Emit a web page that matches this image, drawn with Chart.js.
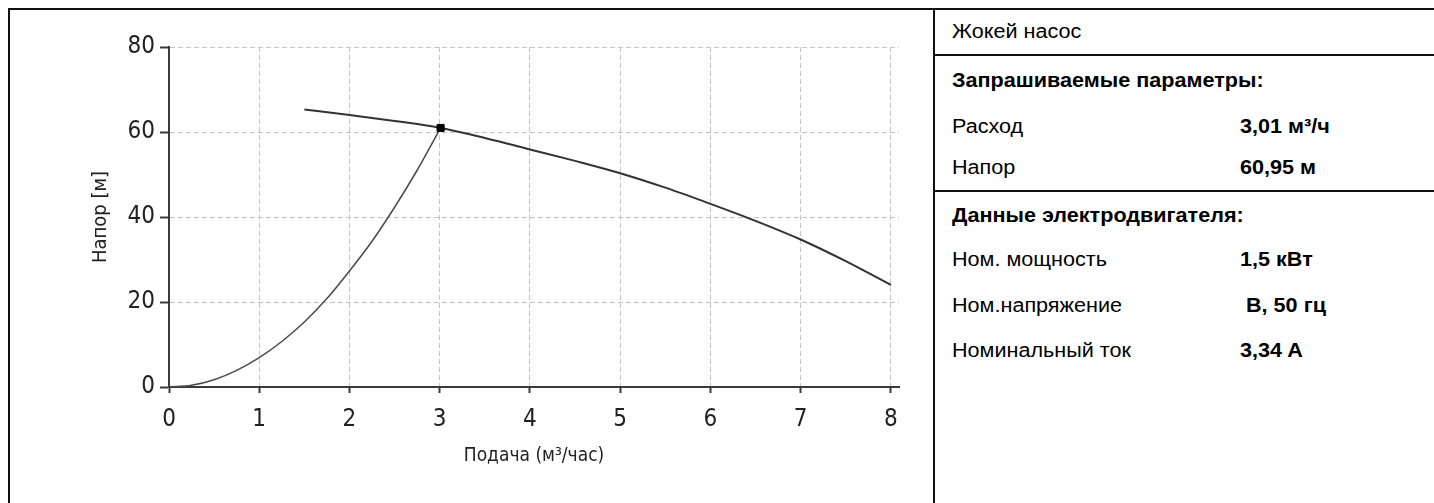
<!DOCTYPE html>
<html>
<head>
<meta charset="utf-8">
<script src="https://cdn.jsdelivr.net/npm/chart.js@4"></script>
<style>
  html, body { margin: 0; padding: 0; background: #fff; }
  body { width: 1434px; height: 503px; position: relative; overflow: hidden; font-family: "Liberation Sans", Arial, sans-serif; color: #000; }
  .hline { position: absolute; height: 2px; background: #111; }
  .vline { position: absolute; width: 2px; background: #111; }
  #wrap { position: absolute; left: 10px; top: 10px; width: 923px; height: 493px; }
  .t { position: absolute; font-size: 20px; line-height: 20px; white-space: pre; transform: scaleX(1.08); transform-origin: 0 50%; }
  .b { font-weight: bold; }
</style>
</head>
<body>
<div class="hline" style="left:8px; top:8px; width:1426px;"></div>
<div class="vline" style="left:8px; top:8px; height:495px;"></div>
<div class="vline" style="left:933px; top:8px; height:495px;"></div>
<div class="hline" style="left:933px; top:54px; width:501px;"></div>
<div class="hline" style="left:933px; top:190px; width:501px;"></div>

<div id="wrap"><canvas id="c" width="923" height="493"></canvas></div>

<div id="panel"></div>

<script>
// ---- data ----
const xTicks = [0, 1, 2, 3, 4, 5, 6, 7, 8];
const yTicks = [0, 20, 40, 60, 80];

const pumpQ = [1.5, 2, 2.5, 3, 3.5, 4, 4.5, 5, 5.5, 6, 6.5, 7, 7.5, 8];
const pumpH = [65.3, 64.0, 62.6, 61.0, 58.6, 55.9, 53.2, 50.3, 46.9, 43.1, 39.1, 34.7, 29.6, 24.0];

const sysQ = [0, 0.25, 0.5, 0.75, 1, 1.25, 1.5, 1.75, 2, 2.25, 2.5, 2.75, 3.01];
const sysH = [0, 0.4, 1.7, 3.9, 6.9, 10.7, 15.3, 20.8, 27.3, 34.3, 42.3, 51.0, 60.95];

const dutyQ = [3.01];
const dutyH = [60.95];

const xTitle = 'Подача (м³/час)';
const yTitle = 'Напор [м]';

const panelTitle = 'Жокей насос';
const section1 = 'Запрашиваемые параметры:';
const section1Labels = ['Расход', 'Напор'];
const section1Values = ['3,01 м³/ч', '60,95 м'];
const section2 = 'Данные электродвигателя:';
const section2Labels = ['Ном. мощность', 'Ном.напряжение', 'Номинальный ток'];
const section2Values = ['1,5 кВт', ' В, 50 гц', '3,34 A'];

// ---- right panel ----
const panel = document.getElementById('panel');
function addText(txt, x, yc, bold) {
  const d = document.createElement('div');
  d.className = 't' + (bold ? ' b' : '');
  d.textContent = txt;
  d.style.left = x + 'px';
  d.style.top = (yc - 10) + 'px';
  panel.appendChild(d);
}
const labX = 952, valX = 1240;
addText(panelTitle, labX, 31, false);
addText(section1, labX, 80, true);
const s1Y = [126, 167];
section1Labels.forEach((l, i) => { addText(l, labX, s1Y[i], false); addText(section1Values[i], valX, s1Y[i], true); });
addText(section2, labX, 215, true);
const s2Y = [259, 305, 350];
section2Labels.forEach((l, i) => { addText(l, labX, s2Y[i], false); addText(section2Values[i], valX, s2Y[i], true); });

// ---- chart ----
const narrow = "'Liberation Sans Narrow', 'Arial Narrow', 'DejaVu Sans Condensed', sans-serif";
const toPts = (xs, ys) => xs.map((x, i) => ({ x: x, y: ys[i] }));

new Chart(document.getElementById('c'), {
  type: 'scatter',
  data: {
    datasets: [
      { data: toPts(dutyQ, dutyH), showLine: false, pointStyle: 'rect', pointRadius: 5, borderWidth: 1,
        backgroundColor: '#000', borderColor: '#000', order: 0 },
      { data: toPts(pumpQ, pumpH), showLine: true, borderColor: '#333', borderWidth: 2, pointRadius: 0,
        cubicInterpolationMode: 'monotone', order: 1 },
      { data: toPts(sysQ, sysH), showLine: true, borderColor: '#4a4a4a', borderWidth: 1.5, pointRadius: 0,
        cubicInterpolationMode: 'monotone', order: 2 }
    ]
  },
  options: {
    responsive: false,
    animation: false,
    events: [],
    layout: { padding: { top: 37, right: 34, left: 0, bottom: 0 } },
    plugins: { legend: { display: false }, tooltip: { enabled: false } },
    scales: {
      x: {
        type: 'linear', min: 0, max: 8.09,
        afterBuildTicks: s => { s.ticks = xTicks.map(v => ({ value: v })); },
        afterFit: s => { s.height = 116; },
        border: { display: true, color: '#3a3a3a', width: 2, dash: [5, 3] },
        grid: { color: '#c4c4c4', lineWidth: 1, tickLength: 6,
                tickColor: '#3a3a3a', tickWidth: 2, tickBorderDash: [] },
        ticks: { color: '#222', font: { family: narrow, size: 24 }, padding: 12, maxRotation: 0 },
        title: { display: true, text: xTitle, color: '#222', font: { family: narrow, size: 19 },
                 padding: { top: 0, bottom: 36 } }
      },
      y: {
        type: 'linear', min: 0, max: 80,
        afterBuildTicks: s => { s.ticks = yTicks.map(v => ({ value: v })); },
        afterFit: s => { s.width = 159; },
        border: { display: true, color: '#3a3a3a', width: 2, dash: [5, 3] },
        grid: { color: '#c4c4c4', lineWidth: 1, tickLength: 9,
                tickColor: '#3a3a3a', tickWidth: 2, tickBorderDash: [] },
        ticks: { color: '#222', font: { family: narrow, size: 24 }, padding: 5 },
        title: { display: true, text: yTitle, color: '#222', font: { family: narrow, size: 20 },
                 padding: { top: 79, bottom: 0 } }
      }
    }
  }
});
</script>
</body>
</html>
